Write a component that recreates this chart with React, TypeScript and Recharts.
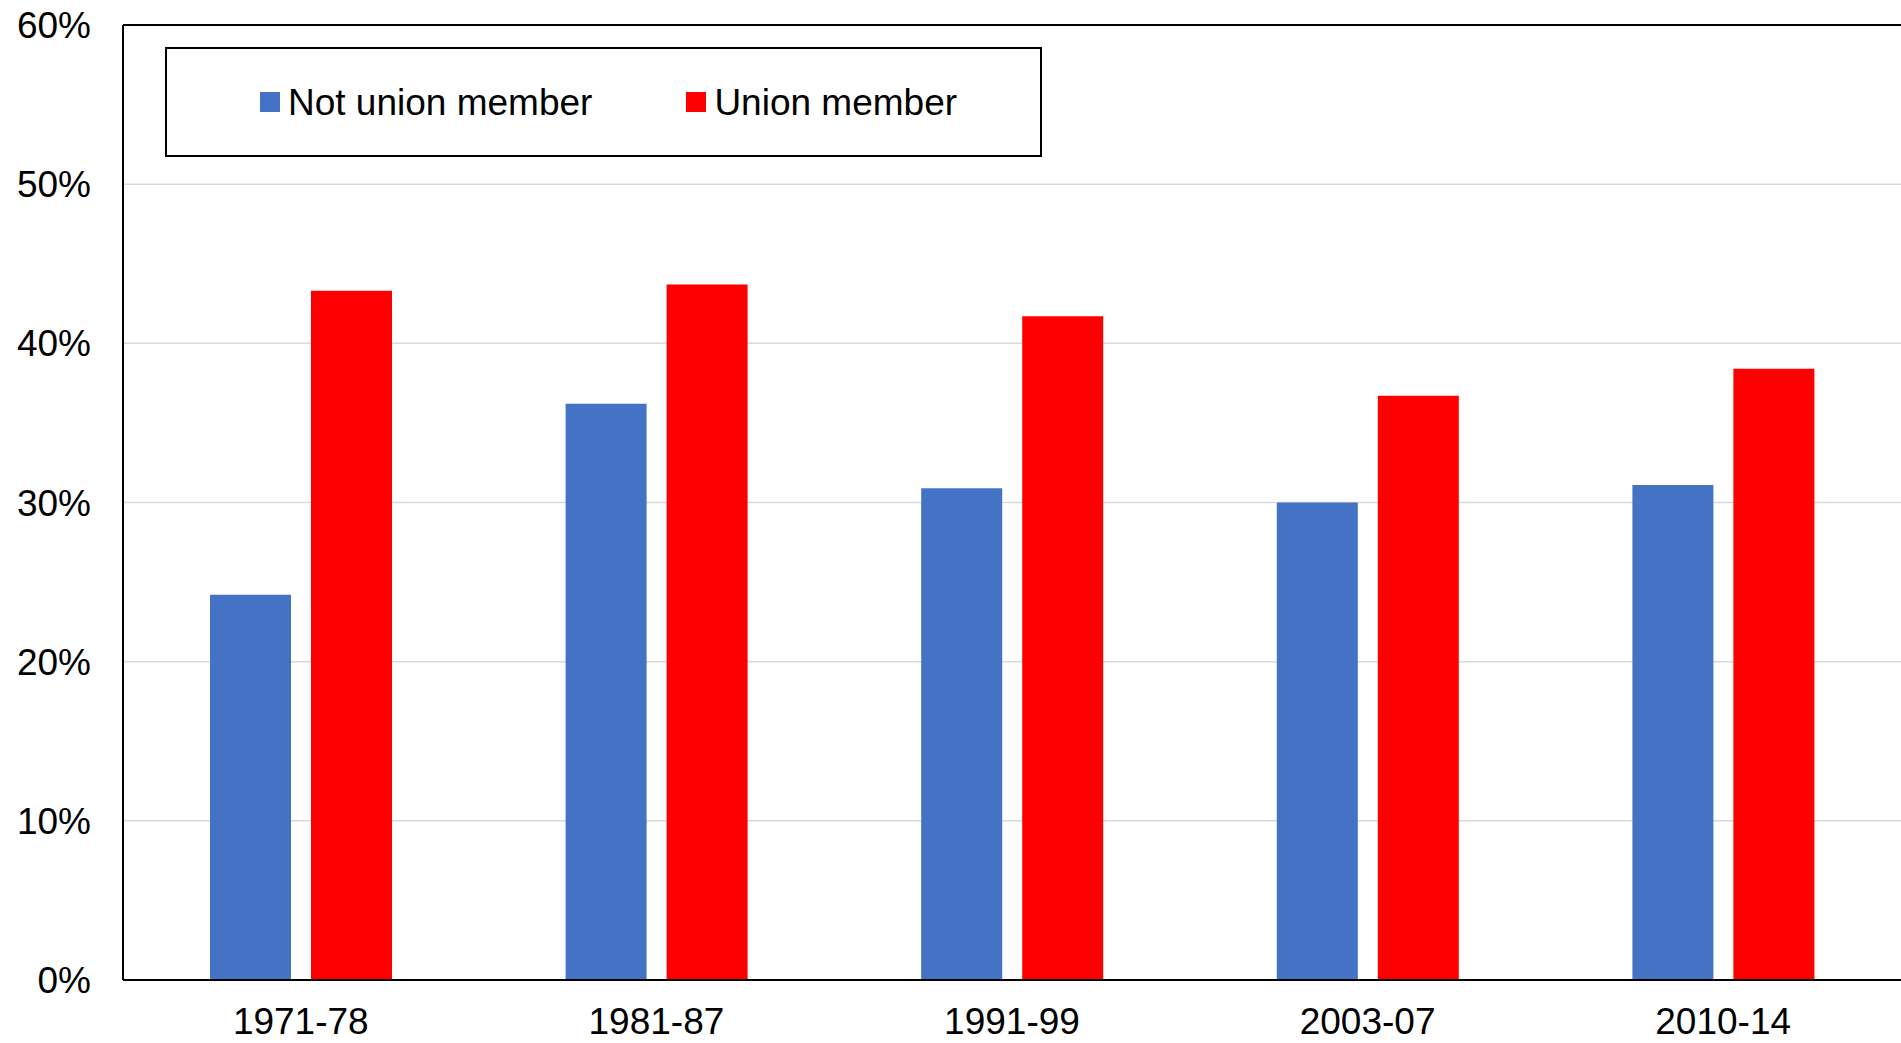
import React from 'react';
import {
  BarChart,
  Bar,
  XAxis,
  YAxis,
  CartesianGrid,
  Legend,
  ReferenceLine,
} from 'recharts';

const periods = ['1971-78', '1981-87', '1991-99', '2003-07', '2010-14'];
const notUnionMember = [24.2, 36.2, 30.9, 30.0, 31.1];
const unionMember = [43.3, 43.7, 41.7, 36.7, 38.4];
const yTicks = [0, 10, 20, 30, 40, 50, 60];

const data = periods.map((period, i) => ({
  period,
  notUnion: notUnionMember[i],
  union: unionMember[i],
}));

const FONT = '"Liberation Sans", Arial, Helvetica, sans-serif';

function LegendBox(props: any) {
  const items = props.payload || [];
  return (
    <div
      style={{
        boxSizing: 'border-box',
        width: '100%',
        height: '100%',
        border: '2px solid #000',
        background: '#fff',
        display: 'flex',
        alignItems: 'center',
        paddingLeft: 93,
        fontFamily: FONT,
        fontSize: 37,
        color: '#000',
      }}
    >
      {items.map((item: any, i: number) => (
        <div
          key={item.value}
          style={{ display: 'flex', alignItems: 'center', marginLeft: i === 0 ? 0 : 94 }}
        >
          <span
            style={{ width: 20, height: 20, background: item.color, marginRight: 8, display: 'inline-block' }}
          />
          <span style={{ lineHeight: 1 }}>{item.value}</span>
        </div>
      ))}
    </div>
  );
}

export default function App() {
  return (
    <div style={{ position: 'absolute', left: 0, top: 0, background: '#fff' }}>
      <BarChart
        width={1901}
        height={1043}
        data={data}
        margin={{ top: 25, right: 0, bottom: 0, left: 0 }}
        barGap={20}
      >
        <CartesianGrid horizontal vertical={false} stroke="#d9d9d9" strokeWidth={1.5} />
        <XAxis
          dataKey="period"
          height={63}
          axisLine={{ stroke: '#000', strokeWidth: 2 }}
          tickLine={false}
          tickSize={0}
          tickMargin={28}
          tick={{ fill: '#000', fontSize: 37, fontFamily: FONT }}
        />
        <YAxis
          width={123}
          domain={[0, 60]}
          ticks={yTicks}
          tickFormatter={(v: number) => `${v}%`}
          axisLine={{ stroke: '#000', strokeWidth: 2 }}
          tickLine={false}
          tickSize={0}
          tickMargin={32}
          tick={{ fill: '#000', fontSize: 37, fontFamily: FONT }}
        />
        <ReferenceLine y={60} stroke="#000" strokeWidth={2} />
        <Legend
          layout="horizontal"
          verticalAlign="middle"
          align="center"
          content={<LegendBox />}
          wrapperStyle={{ left: 165, top: 47, width: 877, height: 110 }}
        />
        <Bar
          dataKey="notUnion"
          name="Not union member"
          fill="#4472C4"
          barSize={81}
          isAnimationActive={false}
        />
        <Bar
          dataKey="union"
          name="Union member"
          fill="#FF0000"
          barSize={81}
          isAnimationActive={false}
        />
      </BarChart>
    </div>
  );
}
